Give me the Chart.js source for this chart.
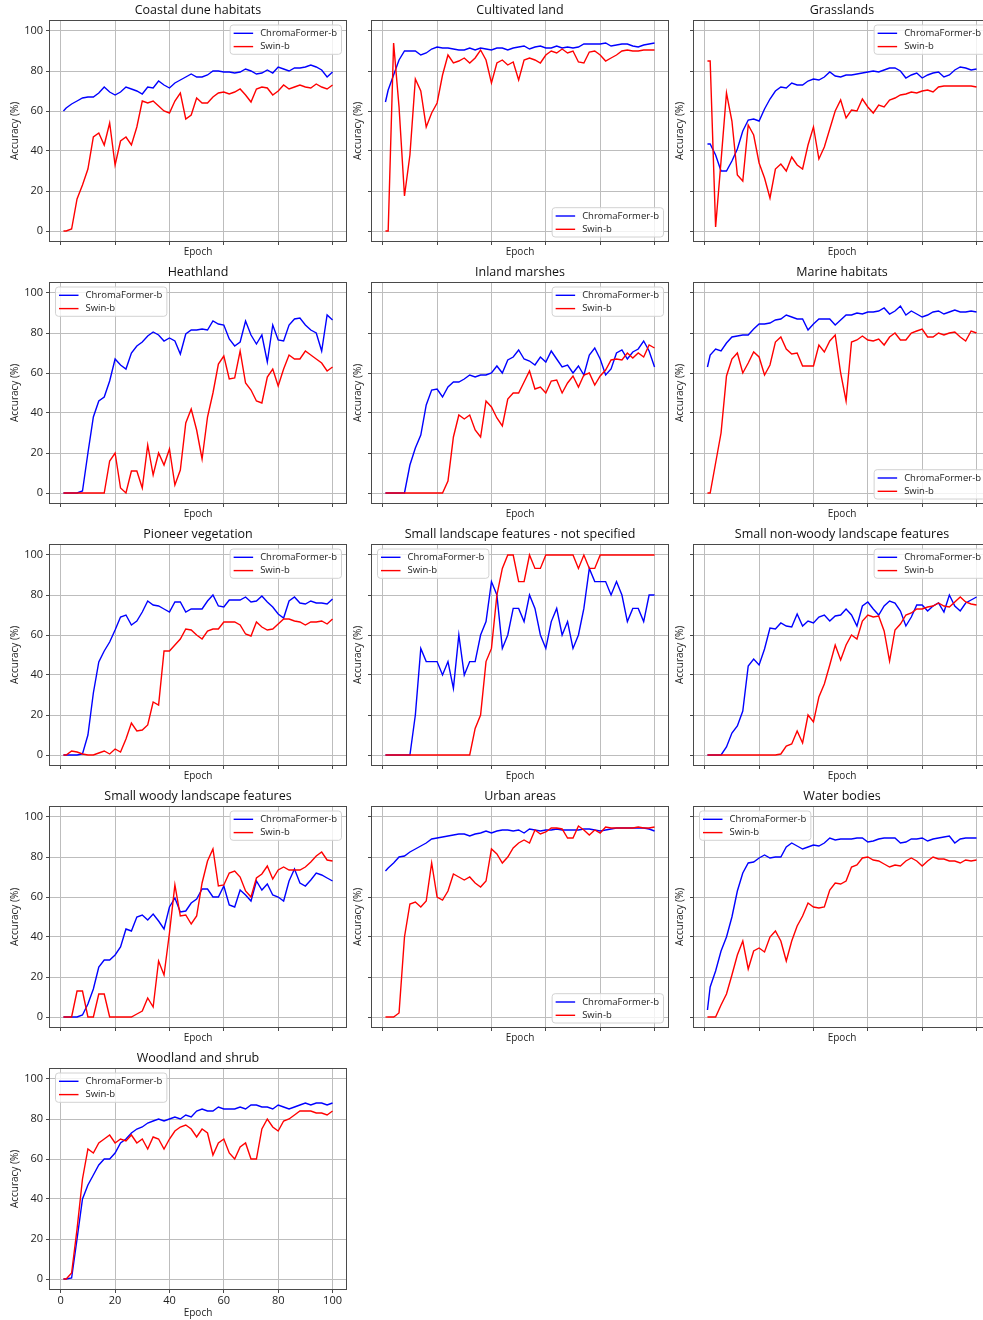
<!DOCTYPE html>
<html>
<head>
<meta charset="utf-8">
<script src="https://cdn.jsdelivr.net/npm/chart.js@4.4.1/dist/chart.umd.min.js"></script>
<style>
  html, body { margin: 0; padding: 0; background: #fff; width: 983px; height: 1320px; overflow: hidden; position: relative; }
  canvas { position: absolute; }
</style>
</head>
<body>
<script>
// Training epochs at which per-class accuracy was sampled
const epochs = [1,2,4,6,8,10,12,14,16,18,20,22,24,26,28,30,32,34,36,38,40,42,44,46,48,50,52,54,56,58,60,62,64,66,68,70,72,74,76,78,80,82,84,86,88,90,92,94,96,98,100];

const seriesNames = ['ChromaFormer-b', 'Swin-b'];
const panelTitles = [
  'Coastal dune habitats', 'Cultivated land', 'Grasslands',
  'Heathland', 'Inland marshes', 'Marine habitats',
  'Pioneer vegetation', 'Small landscape features - not specified', 'Small non-woody landscape features',
  'Small woody landscape features', 'Urban areas', 'Water bodies',
  'Woodland and shrub'
];
const xTicks = [0, 20, 40, 60, 80, 100];
const yTicks = [0, 20, 40, 60, 80, 100];
const xTitle = 'Epoch';
const yTitle = 'Accuracy (%)';

// Accuracy (%) per class, one value per entry of `epochs`
const coastalChroma = [60,61.5,63.5,65,66.5,67,67,69,72,69.5,68,69.5,72,71,70,68.5,72,71.5,75,73,71.5,74,75.5,77,78.5,77,77,78,80,80,79.5,79.5,79,79.5,81,80,78.5,79,80.5,79,82,81,80,81.5,81.5,82,83,82,80.5,77,79.5];
const coastalSwin = [0,0,1,16,23,31,47,49,43,54,33,45,47,43,52,65,64,65,62.5,60,59,65,69,56,58,66.5,64,64,67,69,69.5,68.5,69.5,71,68,64.5,71,72,71.5,68,70,73,71,72,73,72,71.5,73.5,72,71,73];

const cultivatedChroma = [64.5,70.5,78,85.5,90,90,90,88,89,91,92,91.5,91.5,91,90.5,90.5,91.5,90.5,91.5,91,90.5,91.5,91.5,90.5,91.5,92,92.5,91,92,92.5,91.5,91.5,92.5,91.5,92,91.5,92,93.5,93.5,93.5,93.5,94,92.5,93,93.5,93.5,92.5,92,93,93.5,94];
const cultivatedSwin = [0,0,94,62,17.5,38,76,70,52,59,64,78,88,84,85,86.5,84,86.5,90.5,85.5,74,84,85.5,83,84.5,75.5,85.5,86.5,85.5,84,88,90,89,91,89,90,84.5,84,89.5,90,88,85,86.5,88,90,90.5,90,90,90.5,90.5,90.5];

const grassChroma = [43.5,43.5,38,30,30,35,41,50,55.5,56,55,61,66,70,72,71.5,74,73,73,75,76,75.5,77,79.5,77.5,77,78,78,78.5,79,79.5,80,79.5,80.5,81.5,81.5,80,76.5,78,79,76.5,78,79,79.5,77,78,80.5,82,81.5,80.5,81];
const grassSwin = [85,85,2,35,69,55,28,25,53,48,34,26.5,16.5,31,33.5,30,37,33,31,43,52,36,42,51,60,65.5,56.5,60.5,60,66,62,59,63,62,65.5,66.5,68,68.5,69.5,69,70,70.5,69.5,72,72.5,72.5,72.5,72.5,72.5,72.5,72];

const heathChroma = [0,0,0,0,1,20,38,46,48,56,67,64,62,70,73.5,75.5,78.5,80.5,79,76,77.5,76,69.5,79.5,81.5,81.5,82,81.5,86,84.5,84,77,73.5,75.5,86,79,74.5,79,65.5,84,76.5,76,84,87,87.5,84,81.5,80,71,89,86.5];
const heathSwin = [0,0,0,0,0,0,0,0,0,16,20,2.5,0,11,11,2.5,24,9,20,14,22,4,11.5,35,42,31.5,17,38,50,64.5,68.5,57,57.5,71,55,51.5,46,45,58,62,53.5,62,69,67,67,71,69,67,65,61,63];

const inlandChroma = [0,0,0,0,0,14,22.5,29,44,51.5,52,48,53,55.5,55.5,57,59,58,59,59,60,63.5,60,66.5,68,71.5,67,66,64,68,65.5,71,67,63,64,60,63.5,59,69,72.5,67,59,62,70,71.5,67,70.5,72,76,71,63];
const inlandSwin = [0,0,0,0,0,0,0,0,0,0,0,0,6,28,39,37,39,31.5,28,46,43,37.5,33.5,47,50,50,55.5,61,52,53,50,56,56.5,50,55,58.5,53,59,60,54,58.5,61.5,66.5,67,66.5,70,67.5,70,68,74,72.5];

const marineChroma = [63,69,72,71,75,78,78.5,79,79,82,84.5,84.5,85,86.5,87,89,88,87,87,81.5,84.5,87,87,87,84,86.5,89,89,90,89.5,90.5,90.5,91,92.5,89.5,91,93.5,89,91,89.5,88,89,90.5,91,89.5,90.5,91.5,90.5,90.5,91,90.5];
const marineSwin = [0,0,15,30,58.5,67,70,60,65,70.5,68,59,64,75.5,78,72,69.5,70,63.5,63.5,63.5,74,70.5,76,79,60,46,75.5,76.5,78.5,76.5,76,77,74,78,80,76.5,76.5,80,81,82,78,78,80,79,80,80.5,78,76,81,80];

const pioneerChroma = [0,0,0,0,0.5,10,31,46.5,52,56.5,62.5,69,70,65,67,71.5,77,75,74.5,73,71.5,76.5,76.5,71.5,73,73,73,77,80,74.5,74,77.5,77.5,77.5,79,76.5,77,79.5,76.5,74,70.5,68.5,77,79,76,75.5,77,76,76,75.5,78];
const pioneerSwin = [0,0,2,1.5,0.5,0,0,1,2,0.5,3,1.5,8,16,12,12.5,15,26.5,25,52,52,55,58,63,62.5,60,58,62,63,63,66.5,66.5,66.5,65,60.5,59.5,66.5,64,62.5,63,65.5,68,68,67,66.5,65,66.5,66.5,67,65.5,68];

const smallLandChroma = [0,0,0,0,0,0,20,53.3,46.7,46.7,46.7,40,46.7,33.3,60,40,46.7,46.7,60,66.7,86.7,80,53.3,60,73.3,73.3,66.7,80,73.3,60,53.3,66.7,73.3,60,66.7,53.3,60,73.3,93.3,86.7,86.7,86.7,80,86.7,80,66.7,73.3,73.3,66.7,80,80];
const smallLandSwin = [0,0,0,0,0,0,0,0,0,0,0,0,0,0,0,0,0,13.3,20,46.7,53.3,80,93.3,100,100,86.7,86.7,100,93.3,93.3,100,100,100,100,100,100,93.3,100,93.3,93.3,100,100,100,100,100,100,100,100,100,100,100];

const nonWoodyChroma = [0,0,0,0,4,11,14.5,22,44.5,48,45,53,63.5,63,66,64.5,64,70.5,64.5,67,66,69,70,67,69.5,70,73,70,64.5,74.5,76.5,73,70,74.5,77,76,72,64.5,69,75,75,72,74.5,76,71.5,80,74.5,72,76,77.5,79];
const nonWoodySwin = [0,0,0,0,0,0,0,0,0,0,0,0,0,0,0.5,4.5,5.5,12,6,20,16.5,29,35.5,45,55,47.5,55,60,58,67,70,69,69.5,62,47,62.5,65.5,70,71,73,73,74,74.5,76,74.5,74,76.5,79,76.5,75.5,75];

const smallWoodyChroma = [0,0,0,0,1,6.5,14,25,28.5,28.5,31,35,44,43,50,51,48.5,51.5,48,44,55,59.5,52.5,53,57,59,64,64,60,60,65.5,56,55,63.5,61,58,68,63.5,66.5,61,60,58,68,74,67,65.5,68.5,72,71,69.5,68];
const smallWoodySwin = [0,0,0,13,13,0,0,11.5,11.5,0,0,0,0,0,1.5,3,9.5,5,28,21,42,66,50.5,51,46.5,50.5,67,78,84,65.5,66,72,73,70,63,60,69.5,71.5,75.5,69,73.5,75,73.5,73.5,73.5,75,77.5,80.5,82.5,78.5,78];

const urbanChroma = [73,74.5,77,80,80.5,82.5,84,85.5,87,89,89.5,90,90.5,91,91.5,91.5,90.5,91.5,92,93,92,93,93.5,93.5,93,93.5,92,94,93.5,93,93.5,93.5,94,93.5,93.5,93.5,93.5,94,94,93.5,93,93.5,94,94.5,94.5,94.5,94.5,94.5,94.5,94,93];
const urbanSwin = [0,0,0,2,40,56.5,57.5,55,58,77,60,58.5,63,71.5,70,68.5,70,67,65,68,84,81.5,77,80,84.5,87,88.5,87,93.5,91.5,92.5,94.5,94.5,94,89.5,89.5,95.5,93.5,91,93.5,92,95,94.5,94.5,94.5,94.5,94.5,95,94.5,94.5,95];

const waterChroma = [3.5,15,23,33,40,50,63,72,77,77.5,79.5,81,79.5,80,80,85,87,85.5,84,85,86,85.5,87,89.5,88.5,89,89,89,89.5,89.5,87.5,88,89,89.5,89.5,89.5,87,87.5,89,89,89.5,88,89,89.5,90,90.5,87,89,89.5,89.5,89.5];
const waterSwin = [0,0,0,6,11.5,21,31,38,24,33,34.5,32.5,40,43,38,28,38,45.5,50.5,57,55,54.5,55,63.5,67,66.5,68,75,76,79.5,80,78.5,78,76.5,75,76,75.5,78,79.5,78,75.5,78,80,79,79,78,78,77,78.5,78,78.5];

const woodlandChroma = [0,0,0.5,20,40,47,52,57,60,60,63,68,70,73,75,76,78,79,80,79,80,81,80,82,81,84,85,84,84,86,85,85,85,86,85,87,87,86,86,85,87,86,85,86,87,88,87,88,88,87,88];
const woodlandSwin = [0,0,3,25,50,65,63,68,70,72,68,70,69,72,68,70,65,71,70,65,70,74,76,77,75,71,75,73,62,68,70,63,60,66,68,60,60,75,80,76,74,79,80,82,84,84,84,83,83,82,84];

const panelSeries = [
  [coastalChroma, coastalSwin], [cultivatedChroma, cultivatedSwin], [grassChroma, grassSwin],
  [heathChroma, heathSwin], [inlandChroma, inlandSwin], [marineChroma, marineSwin],
  [pioneerChroma, pioneerSwin], [smallLandChroma, smallLandSwin], [nonWoodyChroma, nonWoodySwin],
  [smallWoodyChroma, smallWoodySwin], [urbanChroma, urbanSwin], [waterChroma, waterSwin],
  [woodlandChroma, woodlandSwin]
];

// Where each panel keeps its legend box
const legendCorners = ['ur','lr','ur','ul','ur','lr','ur','ul','ur','ur','lr','ul','ul'];

// ---- figure geometry and styling ----
const FONT = "'Open Sans', 'DejaVu Sans', sans-serif";
const PLOT_W = 296, PLOT_H = 220;
const AXIS_W = 50, TOP_PAD = 21, RIGHT_PAD = 8;
const COL_STEP = 322, ROW_STEP = 262;
const GRID = '#bdbdbd';
const FRAME = '#4a4a4a';
const TEXT = '#222222';
const LINE_COLORS = ['#0000ff', '#ff0000'];

Chart.defaults.font.family = FONT;

function toPoints(values) {
  return epochs.map((e, i) => ({ x: e, y: values[i] }));
}

function decorPlugin(title, corner) {
  return {
    id: 'panelDecor',
    afterDatasetsDraw(chart) {
      const { ctx, chartArea: a } = chart;
      ctx.save();
      // axes frame
      ctx.strokeStyle = FRAME;
      ctx.lineWidth = 1;
      ctx.strokeRect(a.left - 0.5, a.top - 0.5, a.right - a.left + 1, a.bottom - a.top + 1);

      // legend inside the plot area
      const ds = chart.data.datasets;
      ctx.font = '9.5px ' + FONT;
      const textW = Math.max(...ds.map(d => ctx.measureText(d.label).width));
      const boxW = 3.5 + 19.5 + 7 + textW + 4.5;
      const rowH = 13.3;
      const boxH = 8.3 + rowH + 7.7;
      let bx, by;
      if (corner === 'ul') { bx = a.left + 5.5; by = a.top + 4; }
      else if (corner === 'lr') { bx = a.right - 4.5 - boxW; by = a.bottom - 4 - boxH; }
      else { bx = a.right - 4.5 - boxW; by = a.top + 4; }
      ctx.beginPath();
      ctx.roundRect(bx, by, boxW, boxH, 3);
      ctx.fillStyle = 'rgba(255,255,255,0.8)';
      ctx.fill();
      ctx.strokeStyle = '#d2d2d2';
      ctx.lineWidth = 1;
      ctx.stroke();
      ds.forEach((d, i) => {
        const y = by + 8.3 + i * rowH;
        ctx.beginPath();
        ctx.moveTo(bx + 3.5, y);
        ctx.lineTo(bx + 23, y);
        ctx.strokeStyle = d.borderColor;
        ctx.lineWidth = 1.4;
        ctx.stroke();
        ctx.fillStyle = TEXT;
        ctx.textAlign = 'left';
        ctx.textBaseline = 'middle';
        ctx.fillText(d.label, bx + 30, y);
      });

      // panel title
      ctx.font = '12.5px ' + FONT;
      ctx.fillStyle = '#111';
      ctx.textAlign = 'center';
      ctx.textBaseline = 'middle';
      ctx.fillText(title, (a.left + a.right) / 2, a.top - 11);
      ctx.restore();
    }
  };
}

function makePanel(i) {
  const col = i % 3, row = Math.floor(i / 3);
  const isLast = i === panelTitles.length - 1;
  const plotLeft = 50 + COL_STEP * col;
  const plotTop = 21 + ROW_STEP * row;
  const bottomH = isLast ? 32 : 20;
  const W = AXIS_W + PLOT_W + RIGHT_PAD;
  const H = TOP_PAD + PLOT_H + bottomH;

  const cv = document.createElement('canvas');
  cv.width = W; cv.height = H;
  cv.style.width = W + 'px'; cv.style.height = H + 'px';
  cv.style.left = (plotLeft - AXIS_W) + 'px';
  cv.style.top = (plotTop - TOP_PAD) + 'px';
  document.body.appendChild(cv);

  const [chroma, swin] = panelSeries[i];
  const mkSet = (label, values, color, order) => ({
    label, data: toPoints(values), borderColor: color, backgroundColor: color,
    borderWidth: 1.4, pointRadius: 0, tension: 0, fill: false, order
  });

  new Chart(cv, {
    type: 'line',
    data: {
      datasets: [
        mkSet(seriesNames[0], chroma, LINE_COLORS[0], 1),
        mkSet(seriesNames[1], swin, LINE_COLORS[1], 0)
      ]
    },
    options: {
      responsive: false,
      animation: false,
      devicePixelRatio: 1,
      events: [],
      layout: { padding: { top: TOP_PAD, right: RIGHT_PAD, left: 0, bottom: 0 } },
      plugins: { legend: { display: false }, tooltip: { enabled: false }, title: { display: false } },
      scales: {
        x: {
          type: 'linear', min: -3.95, max: 104.95,
          afterBuildTicks: s => { s.ticks = xTicks.map(v => ({ value: v })); },
          afterFit: s => { s.height = bottomH; },
          border: { display: false },
          grid: { color: GRID, lineWidth: 1, tickLength: 4, tickColor: FRAME, tickWidth: 1, drawTicks: true },
          ticks: { display: isLast, padding: 1, color: TEXT, font: { size: 11 }, maxRotation: 0, autoSkip: false },
          title: { display: true, text: xTitle, color: TEXT, font: { size: 10 }, padding: { top: 0, bottom: isLast ? 1.5 : 2.5 } }
        },
        y: {
          type: 'linear', min: -5, max: 105,
          afterBuildTicks: s => { s.ticks = yTicks.map(v => ({ value: v })); },
          afterFit: s => { s.width = AXIS_W; },
          border: { display: false },
          grid: { color: GRID, lineWidth: 1, tickLength: 4, tickColor: FRAME, tickWidth: 1, drawTicks: true },
          ticks: { display: col === 0, padding: 3, color: TEXT, font: { size: 11 } },
          title: { display: true, text: yTitle, color: TEXT, font: { size: 10 }, padding: { top: col === 0 ? 9 : 30, bottom: 0 } }
        }
      }
    },
    plugins: [decorPlugin(panelTitles[i], legendCorners[i])]
  });
}

panelTitles.forEach((_, i) => makePanel(i));
</script>
</body>
</html>
